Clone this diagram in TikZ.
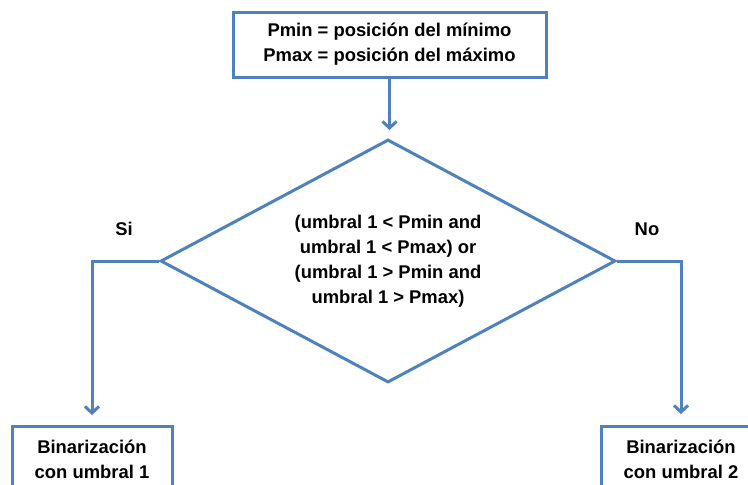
\documentclass[tikz,border=0pt]{standalone}
\usepackage{fontspec}
\setmainfont{Liberation Sans}
\usetikzlibrary{shapes.geometric,arrows.meta}
\definecolor{lblue}{HTML}{4F81BD}
\begin{document}
\begin{tikzpicture}[x=1pt,y=-1pt,
  txt/.style={font=\fontsize{18.4}{25}\selectfont\bfseries, align=center},
  box/.style={txt, draw=lblue, line width=3pt, fill=white, inner sep=0pt},
  conn/.style={draw=lblue, line width=3pt, -{Straight Barb[length=6.5pt,width=14pt]}}]
\clip (0,0) rectangle (748,485);
\fill[white] (0,0) rectangle (748,485);
\node[box, minimum width=313pt, minimum height=65pt] (top) at (389.5,44.5)
  {Pmin = posición del mínimo\\Pmax = posición del máximo};
\node[txt, diamond, draw=lblue, line width=3pt, inner sep=0pt, aspect=1.87,
  minimum width=455pt, minimum height=243pt] (dia) at (388,261)
  {(umbral 1 < Pmin and\\umbral 1 < Pmax) or\\(umbral 1 > Pmin and\\umbral 1 > Pmax)};
\node[box, anchor=north, minimum width=160pt, minimum height=66pt] (b1) at (92,425)
  {Binarización\\con umbral 1};
\node[box, anchor=north, minimum width=160pt, minimum height=66pt] (b2) at (681,425)
  {Binarización\\con umbral 2};
\node[txt] (si) at (124,229) {Si};
\node[txt] (no) at (647,229) {No};
\draw[conn, shorten >=8pt] (top.south) -- (top.south |- dia.north);
\draw[conn, shorten >=10pt] (dia.west) -| (b1.north);
\draw[conn, shorten >=11pt] (dia.east) -| (b2.north);
\end{tikzpicture}
\end{document}
